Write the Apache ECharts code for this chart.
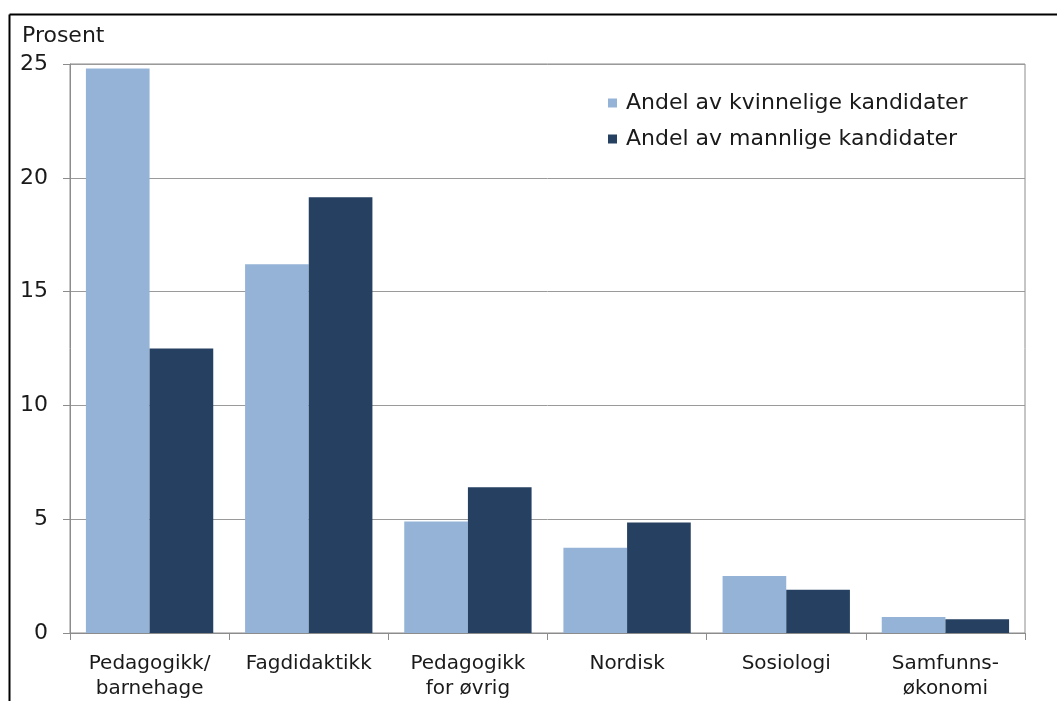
<!DOCTYPE html>
<html>
<head>
<meta charset="utf-8">
<script src="https://cdn.jsdelivr.net/npm/echarts@6/dist/echarts.min.js"></script>
<style>
html,body{margin:0;padding:0;background:#fff;overflow:hidden;}
#chart{width:1057px;height:701px;}
</style>
</head>
<body>
<div id="chart"></div>
<script>
const categories = ["Pedagogikk/\nbarnehage", "Fagdidaktikk", "Pedagogikk\nfor øvrig", "Nordisk", "Sosiologi", "Samfunns-\nøkonomi"];
const seriesNames = ["Andel av kvinnelige kandidater", "Andel av mannlige kandidater"];
const female = [24.8, 16.2, 4.9, 3.75, 2.5, 0.7];
const male = [12.5, 19.15, 6.4, 4.85, 1.9, 0.6];
const yTicks = {min: 0, max: 25, interval: 5};
const yAxisTitle = "Prosent";

const font = "DejaVu Sans, Verdana, sans-serif";
const chart = echarts.init(document.getElementById('chart'), null, {renderer: 'canvas'});
chart.setOption({
  animation: false,
  backgroundColor: '#ffffff',
  textStyle: {fontFamily: font},
  graphic: [
    {type: 'line', shape: {x1: 9.5, y1: 14.5, x2: 1057, y2: 14.5}, style: {stroke: '#000', lineWidth: 2}},
    {type: 'line', shape: {x1: 9.5, y1: 14.5, x2: 9.5, y2: 701}, style: {stroke: '#000', lineWidth: 2}},
    {type: 'text', left: 22, top: 25, style: {text: yAxisTitle, font: '22px ' + font, fill: '#1a1a1a'}}
  ],
  grid: {left: 70, width: 955, top: 64, height: 573, show: true, borderColor: '#8c8c8c', borderWidth: 1, containLabel: false},
  legend: {
    orient: 'vertical', left: 603, top: 87, itemWidth: 9, itemHeight: 9, itemGap: 14,
    icon: 'rect',
    textStyle: {fontSize: 22, color: '#1a1a1a', fontFamily: font, padding: [0, 0, 0, 4]},
    data: seriesNames
  },
  xAxis: {
    type: 'category', data: categories,
    axisLine: {lineStyle: {color: '#8c8c8c'}},
    axisTick: {show: true, length: 7, lineStyle: {color: '#8c8c8c'}},
    axisLabel: {fontSize: 20, color: '#1a1a1a', margin: 18, lineHeight: 25, interval: 0}
  },
  yAxis: {
    type: 'value', min: yTicks.min, max: yTicks.max, interval: yTicks.interval,
    axisLine: {show: true, lineStyle: {color: '#8c8c8c'}},
    axisTick: {show: true, length: 7, lineStyle: {color: '#8c8c8c'}},
    axisLabel: {fontSize: 22, color: '#1a1a1a', margin: 22},
    splitLine: {show: true, lineStyle: {color: '#9a9a9a'}}
  },
  series: [
    {name: seriesNames[0], type: 'bar', data: female, barGap: '0%', barCategoryGap: '20%', itemStyle: {color: '#95B3D7'}},
    {name: seriesNames[1], type: 'bar', data: male, barGap: '0%', barCategoryGap: '20%', itemStyle: {color: '#254061'}}
  ]
});
</script>
</body>
</html>
